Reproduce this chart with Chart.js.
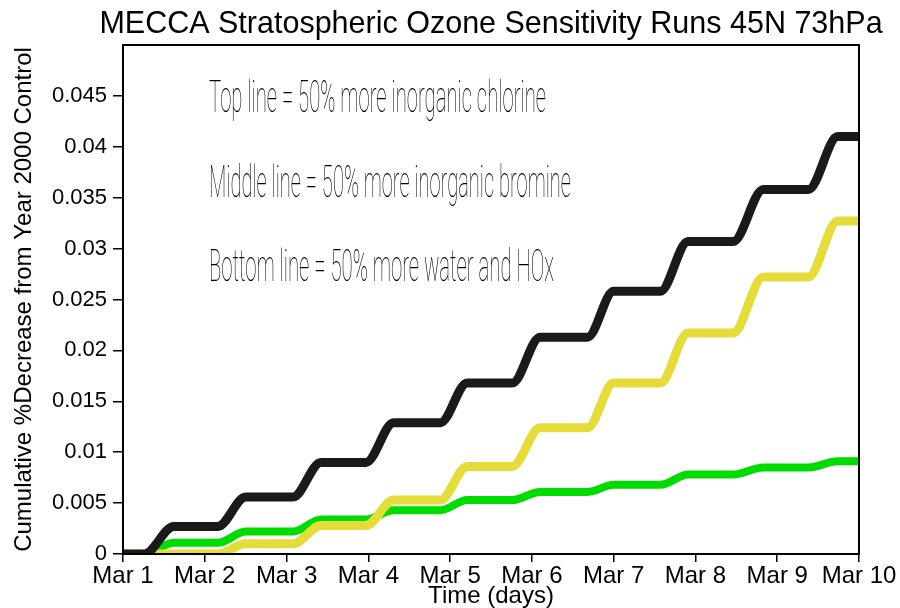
<!DOCTYPE html>
<html lang="en">
<head>
  <meta charset="UTF-8">
  <title>MECCA Stratospheric Ozone Sensitivity Runs</title>
  <style>
    body { margin: 0; padding: 0; background: #fff; }
    canvas { display: block; }
  </style>
  <script src="https://cdn.jsdelivr.net/npm/chart.js"></script>
</head>
<body>
  <canvas id="chartCanvas" width="900" height="608"></canvas>

  <script>
    // axis labels
    const dayLabels = ['Mar 1', 'Mar 2', 'Mar 3', 'Mar 4', 'Mar 5', 'Mar 6', 'Mar 7', 'Mar 8', 'Mar 9', 'Mar 10'];
    const yTickLabels = ['0', '0.005', '0.01', '0.015', '0.02', '0.025', '0.03', '0.035', '0.04', '0.045'];

    // daytime ozone loss: when each daily rise starts / ends (days after Mar 1)
    const riseStart = [0.26, 1.16, 2.08, 2.97, 3.88, 4.76, 5.68, 6.57, 7.46, 8.38];
    const riseEnd   = [0.62, 1.50, 2.42, 3.31, 4.21, 5.10, 6.00, 6.91, 7.83, 8.74];

    // level reached after each day's rise (cumulative % decrease)
    const chlorine = [0.0027, 0.0056, 0.0090, 0.0129, 0.0168, 0.0213, 0.0258, 0.0307, 0.0358, 0.0410];
    const bromine  = [0.0000, 0.0010, 0.0028, 0.0053, 0.0086, 0.0124, 0.0168, 0.0217, 0.0272, 0.0327];
    const waterHOx = [0.0011, 0.0022, 0.0034, 0.0043, 0.0053, 0.0061, 0.0068, 0.0078, 0.0085, 0.0091];

    const titleText = 'MECCA Stratospheric Ozone Sensitivity Runs 45N 73hPa';
    const notes = [
      'Top line = 50% more inorganic chlorine',
      'Middle line = 50% more inorganic bromine',
      'Bottom line = 50% more water and HOx'
    ];

    // build {x,y} points: flat at night, rise during the day
    function stepSeries(levels) {
      const pts = [{ x: 0, y: 0 }];
      let prev = 0;
      levels.forEach((v, i) => {
        pts.push({ x: riseStart[i], y: prev });
        pts.push({ x: riseEnd[i], y: v });
        prev = v;
      });
      pts.push({ x: dayLabels.length - 1, y: prev });
      return pts;
    }

    // title, text notes + box frame
    const notesPlugin = {
      id: 'notes',
      afterDraw(chart) {
        const { ctx, chartArea: a } = chart;
        ctx.save();

        // title, centred over the plot box
        ctx.font = "30.5px 'Liberation Sans', Arial, sans-serif";
        ctx.fillStyle = '#000';
        ctx.textAlign = 'center';
        ctx.textBaseline = 'alphabetic';
        ctx.fillText(titleText, (a.left + a.right) / 2, 33);

        // condensed thin notes
        const left = 209, base = [112, 197, 281], right = [546, 571, 554];
        ctx.textAlign = 'left';
        ctx.font = '100 44px Roboto, "DejaVu Sans", sans-serif';
        notes.forEach((t, i) => {
          const w = ctx.measureText(t).width;
          ctx.save();
          ctx.translate(left, base[i]);
          ctx.scale((right[i] - left) / w, 1);
          ctx.fillText(t, 0, 0);
          ctx.restore();
        });

        ctx.lineWidth = 2;
        ctx.strokeStyle = '#000';
        ctx.strokeRect(a.left, a.top, a.right - a.left, a.bottom - a.top);
        ctx.restore();
      }
    };

    Chart.defaults.font.family = "'Liberation Sans', Arial, sans-serif";
    Chart.defaults.color = '#000';

    const ctx = document.getElementById('chartCanvas').getContext('2d');
    new Chart(ctx, {
      type: 'line',
      data: {
        datasets: [
          { label: 'chlorine', data: stepSeries(chlorine), borderColor: '#1a1a1a', borderWidth: 9, clip: 0 },
          { label: 'bromine', data: stepSeries(bromine), borderColor: '#e5dc3a', borderWidth: 9, clip: 0 },
          { label: 'water and HOx', data: stepSeries(waterHOx), borderColor: '#00dc00', borderWidth: 8, clip: 0 }
        ]
      },
      options: {
        responsive: false,
        animation: false,
        layout: { padding: { left: 0, right: 41, top: 45, bottom: 0 } },
        elements: {
          point: { radius: 0 },
          line: { cubicInterpolationMode: 'monotone', fill: false, borderCapStyle: 'butt' }
        },
        plugins: {
          legend: { display: false },
          tooltip: { enabled: false },
          title: { display: false }
        },
        scales: {
          x: {
            type: 'linear',
            min: 0,
            max: dayLabels.length - 1,
            grid: { drawOnChartArea: false, drawTicks: true, tickLength: 8, color: '#000', lineWidth: 1.5 },
            border: { color: '#000', width: 2 },
            ticks: {
              stepSize: 1, autoSkip: false, maxRotation: 0, padding: 0,
              font: { size: 24 }, color: '#000',
              callback: v => dayLabels[v] ?? ''
            },
            title: {
              display: true, text: 'Time (days)', font: { size: 24, lineHeight: 1.0 },
              color: '#000', padding: { top: 0, bottom: 0 }
            },
            afterFit(s) { s.height = 54; }
          },
          y: {
            min: 0,
            max: 0.05,
            grid: {
              drawOnChartArea: false, drawTicks: true, tickLength: 10, lineWidth: 1.5,
              color: c => (c.index < yTickLabels.length ? '#000' : 'rgba(0,0,0,0)')
            },
            border: { color: '#000', width: 2 },
            ticks: {
              stepSize: 0.005, padding: 6,
              font: { size: 22 }, color: '#000',
              callback: (v, i) => yTickLabels[i] ?? ''
            },
            title: {
              display: true, text: 'Cumulative %Decrease from Year 2000 Control',
              font: { size: 24 }, color: '#000', padding: { top: 10, bottom: 0 }
            },
            afterFit(s) { s.width = 123; }
          }
        }
      },
      plugins: [notesPlugin]
    });
  </script>
</body>
</html>
